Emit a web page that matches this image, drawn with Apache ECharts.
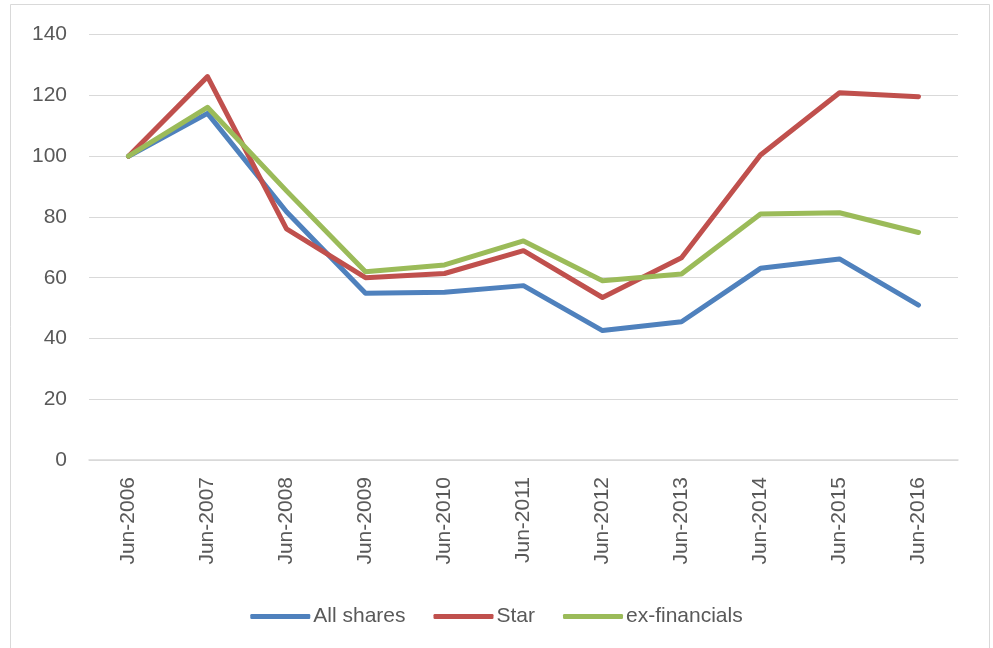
<!DOCTYPE html>
<html>
<head>
<meta charset="utf-8">
<script src="https://cdn.jsdelivr.net/npm/echarts@6/dist/echarts.min.js"></script>
<style>
  html, body { margin: 0; padding: 0; background: #ffffff; }
  #chart { width: 993px; height: 648px; }
</style>
</head>
<body>
<div id="chart"></div>
<script>
// Index levels (June 2006 = 100)
const categories = ['Jun-2006', 'Jun-2007', 'Jun-2008', 'Jun-2009', 'Jun-2010', 'Jun-2011',
                    'Jun-2012', 'Jun-2013', 'Jun-2014', 'Jun-2015', 'Jun-2016'];
const allShares     = [100, 114.1, 81.7, 54.9, 55.2, 57.4, 42.6, 45.5, 63.1, 66.2, 51.0];
const star          = [100, 126.2, 76.1, 60.0, 61.4, 68.9, 53.5, 66.6, 100.4, 120.9, 119.6];
const exFinancials  = [100, 116.1, 88.6, 62.0, 64.2, 72.1, 59.0, 61.2, 81.0, 81.4, 74.9];
const seriesNames = ['All shares', 'Star', 'ex-financials'];
const yTicks = { min: 0, max: 140, interval: 20 };

const colors = ['#4F81BD', '#C0504D', '#9BBB59'];
const textColor = '#595959';
const fontFamily = '"Liberation Sans", Arial, Helvetica, sans-serif';

const chart = echarts.init(document.getElementById('chart'), null, { renderer: 'canvas' });

function lineSeries(name, data, color) {
  return {
    name: name,
    type: 'line',
    data: data,
    symbol: 'none',
    smooth: false,
    lineStyle: { color: color, width: 5, cap: 'round', join: 'round' },
    itemStyle: { color: color },
    emphasis: { disabled: true }
  };
}

chart.setOption({
  animation: false,
  backgroundColor: '#ffffff',
  color: colors,
  textStyle: { fontFamily: fontFamily, color: textColor },
  grid: { left: 89, right: 35, top: 34.7, bottom: 188, containLabel: false },
  graphic: [{
    type: 'rect',
    shape: { x: 10.5, y: 4.5, width: 979, height: 660 },
    style: { fill: 'none', stroke: '#d9d9d9', lineWidth: 1 },
    silent: true
  }],
  legend: {
    data: seriesNames,
    left: 'center',
    top: 601,
    icon: 'roundRect',
    itemWidth: 60,
    itemHeight: 5,
    itemGap: 28,
    textStyle: { fontSize: 21, color: textColor, fontFamily: fontFamily, padding: [0, 0, 0, -2] }
  },
  xAxis: {
    type: 'category',
    data: categories,
    boundaryGap: true,
    axisLine: { show: true, lineStyle: { color: '#d9d9d9', width: 1.5 } },
    axisTick: { show: false },
    axisLabel: {
      rotate: 90,
      margin: 17,
      fontSize: 21,
      color: textColor,
      fontFamily: fontFamily,
      interval: 0
    },
    splitLine: { show: false }
  },
  yAxis: {
    type: 'value',
    min: yTicks.min,
    max: yTicks.max,
    interval: yTicks.interval,
    axisLine: { show: false },
    axisTick: { show: false },
    axisLabel: { margin: 22, fontSize: 21, color: textColor, fontFamily: fontFamily },
    splitLine: { show: true, lineStyle: { color: '#d9d9d9', width: 1.2 } }
  },
  series: [
    lineSeries(seriesNames[0], allShares, colors[0]),
    lineSeries(seriesNames[1], star, colors[1]),
    lineSeries(seriesNames[2], exFinancials, colors[2])
  ]
});
</script>
</body>
</html>
